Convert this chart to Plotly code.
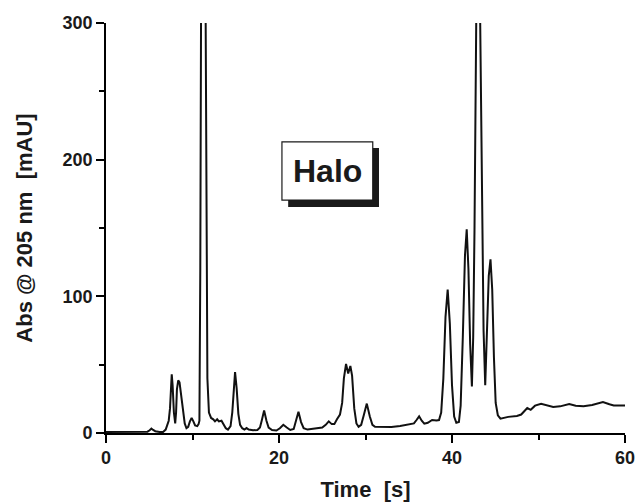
import plotly.graph_objects as go

# Chromatogram
time_s = [0.0, 1.0, 2.0, 3.0, 4.0, 4.8, 5.05, 5.25, 5.45, 5.7, 6.2, 6.6, 6.9, 7.1, 7.25, 7.4, 7.5, 7.6, 7.7, 7.85,
          8.0, 8.1, 8.2, 8.35, 8.5, 8.7, 8.9, 9.1, 9.3, 9.5, 9.7, 9.9, 10.1, 10.3, 10.55, 10.7, 10.8, 10.9, 11.0,
          11.25, 11.5, 11.6, 11.72, 11.9, 12.15, 12.4, 12.6, 12.85, 13.05, 13.35, 13.6, 13.85, 14.1, 14.4, 14.6,
          14.75, 14.92, 15.1, 15.3, 15.5, 15.75, 16.0, 16.25, 16.5, 17.0, 17.5, 17.8, 18.0, 18.28, 18.55, 18.8,
          19.2, 19.7, 20.1, 20.5, 20.9, 21.3, 21.7, 21.95, 22.25, 22.55, 22.85, 23.3, 24.0, 25.0, 25.4, 25.75,
          26.1, 26.4, 26.7, 27.05, 27.3, 27.5, 27.75, 28.0, 28.25, 28.45, 28.7, 28.95, 29.2, 29.5, 29.8, 30.15,
          30.5, 30.8, 31.1, 32.0, 33.0, 34.0, 35.0, 35.6, 35.9, 36.2, 36.5, 36.8, 37.2, 37.7, 38.2, 38.5, 38.75,
          39.0, 39.25, 39.5, 39.75, 40.0, 40.25, 40.5, 40.8, 41.0, 41.25, 41.5, 41.7, 41.9, 42.1, 42.3, 42.45,
          42.6, 42.8, 43.03, 43.26, 43.49, 43.65, 43.84, 44.0, 44.25, 44.45, 44.65, 44.85, 45.05, 45.3, 45.6,
          46.5, 47.5, 48.0, 48.4, 48.7, 49.1, 49.6, 50.3, 51.0, 51.7, 52.5, 53.55, 54.3, 55.2, 56.2, 57.45,
          58.2, 58.7, 60.0]
absorbance = [0.8, 0.8, 0.7, 0.7, 0.8, 1.0, 2.0, 3.2, 2.2, 1.3, 0.8, 0.8, 2.5, 6.0, 9.0, 18, 32, 43, 35, 15,
              7, 15, 32, 38.5, 37, 28, 16, 7, 3.5, 4.5, 8.5, 11, 8.5, 5.5, 5.0, 6.5, 9, 120, 330,
              800, 330, 140, 40, 15, 11, 10, 8.5, 10, 8.5, 9.0, 6, 3.5, 2.5, 5, 15,
              33, 44.5, 33, 14, 6, 3.5, 2.5, 3.6, 2.5, 2.0, 2.2, 4, 9, 16.5, 9, 4,
              2.2, 1.8, 3.5, 6, 4, 2.2, 3, 8, 15.5, 8, 3.5, 2.5, 3.0, 4.0, 6, 8.5,
              6.5, 6.5, 10, 13.5, 22, 40, 50.5, 43.5, 49, 42, 18, 7, 4.5, 6, 13, 21.5,
              12, 6, 4.5, 4.2, 4.4, 5.2, 6, 7, 9.5, 12.2, 9, 6.8, 7.5, 9.5, 9.2, 9.5, 15,
              40, 85, 105, 80, 35, 12, 7.5, 8, 20, 70, 130, 149, 120, 65, 34, 70,
              148, 300, 470, 300, 148, 75, 35, 65, 115, 127, 105, 55, 22, 13, 10.5,
              11.8, 12.5, 13.5, 16.5, 18.3, 17, 20, 21.4, 20, 19, 19.5, 21.2, 20, 19.5, 20.5, 22.7,
              21, 20.2, 20.2]

x_ticks = [0, 20, 40, 60]
y_ticks = [0, 100, 200, 300]
x_title = "Time\u00a0\u00a0[s]"
y_title = "Abs @ 205 nm\u00a0\u00a0[mAU]"
label_text = "Halo"

FONT = "Liberation Sans, Arial, sans-serif"

fig = go.Figure(go.Scatter(x=time_s, y=absorbance, mode="lines",
                           line=dict(color="#111111", width=2.0), showlegend=False))

axis_common = dict(
    showgrid=False, zeroline=False, showline=True, linecolor="black", linewidth=1.6,
    ticks="outside", ticklen=8, tickwidth=1.5, tickcolor="black", automargin=False,
    tickfont=dict(family=FONT, size=18, color="#1a1a1a", weight="bold"),
)

fig.update_layout(
    width=638, height=502,
    margin=dict(l=106, r=13, t=23, b=69),
    paper_bgcolor="white", plot_bgcolor="white",
    xaxis=dict(range=[0, 60], tickvals=x_ticks,
               minor=dict(dtick=10, tick0=0, ticks="outside", ticklen=5, tickwidth=1.5, tickcolor="black"),
               title=dict(text=x_title, font=dict(family=FONT, size=22, color="#1a1a1a", weight="bold"),
                          standoff=14),
               **axis_common),
    yaxis=dict(range=[0, 300], tickvals=y_ticks,
               minor=dict(dtick=50, tick0=0, ticks="outside", ticklen=5, tickwidth=1.5, tickcolor="black"),
               title=dict(text=y_title, font=dict(family=FONT, size=22, color="#1a1a1a", weight="bold"),
                          standoff=24),
               **axis_common),
    shapes=[
        dict(type="rect", xref="paper", yref="paper", x0=0.351, x1=0.526, y0=0.551, y1=0.695,
             fillcolor="#1a1a1a", line=dict(width=0)),
        dict(type="rect", xref="paper", yref="paper", x0=0.339, x1=0.514, y0=0.568, y1=0.710,
             fillcolor="white", line=dict(color="#1a1a1a", width=1.2)),
    ],
    annotations=[
        dict(text=label_text, xref="paper", yref="paper", x=0.426, y=0.639,
             xanchor="center", yanchor="middle", showarrow=False,
             font=dict(family=FONT, size=32, color="#1a1a1a", weight="bold")),
    ],
)

fig.write_html("out.html")
